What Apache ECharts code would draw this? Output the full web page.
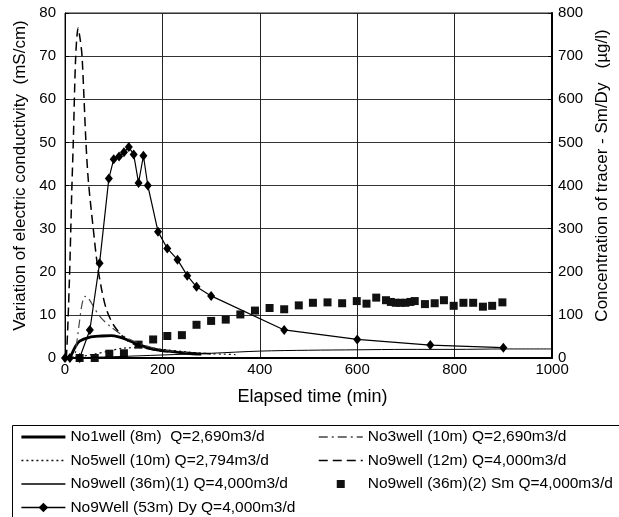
<!DOCTYPE html>
<html>
<head>
<meta charset="utf-8">
<title>Tracer test</title>
<script src="https://cdn.jsdelivr.net/npm/echarts@6/dist/echarts.min.js"></script>
<style>
    html, body { margin: 0; padding: 0; background: #fff; }
    #tracerChart { width: 619px; height: 517px; }
</style>
</head>
<body>
<div id="tracerChart"></div>
<script>
// 电导率 (mS/cm)，[时间(min), 值]
let no1well = [[0, 0], [10, 0.2], [20, 2.4], [30, 3.9], [50, 4.8], [75, 5.1], [95, 5.2], [110, 4.9], [126, 4.3], [151, 3.1], [180, 2.1], [200, 1.7], [220, 1.5], [250, 1.1], [280, 0.9]];
let no3well = [[0, 0], [18, 0.3], [24, 3.5], [29, 7.8], [35, 12.5], [41, 14.3], [47, 14], [54, 12.8], [71, 9.7], [92, 7.4], [126, 4.7], [160, 3.1], [194, 2], [240, 1.4], [300, 1.0]];
let no5well = [[0, 0], [30, 0.3], [60, 0.9], [90, 1.6], [120, 2.3], [160, 2.4], [200, 2.0], [250, 1.4], [300, 1.0], [350, 0.8]];
let no9well12 = [[0, 0], [3, 0.5], [9, 18], [14, 39], [17, 50], [22, 70], [27, 76.5], [31, 74], [35, 70], [43, 50], [48, 41], [58, 30], [66, 22], [75, 16], [85, 11.3], [100, 7.6], [125, 4.3], [150, 2.8], [190, 1.7], [250, 1.2], [300, 1.0]];
let no9well36 = [[0, 0], [100, 0.3], [200, 0.7], [300, 1.1], [400, 1.6], [500, 1.8], [600, 1.9], [700, 2.0], [800, 2.0], [900, 2.1], [1000, 2.1]];

// 示踪剂浓度 (µg/l)
let smConc = [[30, 0], [61, 0], [91, 10], [121, 11], [151, 31], [181, 43], [210, 51], [240, 53], [270, 77], [300, 86], [330, 89], [360, 101], [390, 110], [420, 116], [450, 113], [480, 122], [509, 128], [539, 129], [569, 127], [599, 132], [619, 126], [639, 140], [659, 134], [669, 130], [679, 128], [689, 128], [699, 128], [709, 130], [718, 132], [739, 125], [759, 127], [778, 134], [798, 121], [818, 128], [838, 128], [858, 119], [877, 121], [898, 129]];
let dyConc = [[0, 0], [10, 0], [30, 0], [51, 65], [71, 220], [90, 416], [100, 461], [111, 467], [121, 477], [131, 489], [141, 472], [151, 406], [161, 469], [170, 400], [191, 293], [210, 254], [231, 228], [251, 191], [270, 165], [300, 144], [450, 65], [600, 43], [750, 30], [900, 24]];

let names = [
    'No1well (8m)  Q=2,690m3/d',
    'No3well (10m) Q=2,690m3/d',
    'No5well (10m) Q=2,794m3/d',
    'No9well (12m) Q=4,000m3/d',
    'No9well (36m)(1) Q=4,000m3/d',
    'No9well (36m)(2) Sm Q=4,000m3/d',
    'No9Well (53m) Dy Q=4,000m3/d'
];

let fontFamily = '"Liberation Sans", Arial, sans-serif';

function lineSeries(name, data, width, type, color) {
    return {
        name: name,
        type: 'line',
        data: data,
        symbol: 'none',
        smooth: 0.3,
        z: 3,
        itemStyle: { color: color },
        lineStyle: { color: color, width: width, type: type }
    };
}

// 图例里纯线条不画圆点
function lineOnly(name, width) {
    return {
        name: name,
        itemStyle: { color: 'rgba(0,0,0,0)', borderWidth: 0 },
        lineStyle: { width: width || 1.3 }
    };
}

let legendText = { fontSize: 15.5, color: '#000', fontFamily: fontFamily, lineHeight: 16 };

let option = {
    animation: false,
    textStyle: { fontFamily: fontFamily, color: '#000' },
    grid: {
        left: 65, right: 63, top: 13, bottom: 159,
        show: true, borderColor: '#222', borderWidth: 1
    },
    xAxis: {
        type: 'value', min: 0, max: 1000, interval: 200,
        name: 'Elapsed time (min)', nameLocation: 'middle', nameGap: 30,
        nameTextStyle: { fontSize: 18, color: '#000', padding: [0, 0, 0, 8] },
        axisLine: { lineStyle: { color: '#000', width: 2 } },
        axisTick: { show: false },
        axisLabel: { fontSize: 15, color: '#000', margin: 4, formatter: function (v) { return String(v); } },
        splitLine: { lineStyle: { color: '#222', width: 1 } }
    },
    yAxis: [
        {
            type: 'value', min: 0, max: 80, interval: 10,
            name: 'Variation of electric conductivity  (mS/cm)', nameLocation: 'middle', nameGap: 36,
            nameTextStyle: { fontSize: 17, color: '#000', padding: [0, 0, 0, 20] },
            axisLine: { show: true, lineStyle: { color: '#000', width: 1 } },
            axisTick: { show: true, inside: true, length: 4, lineStyle: { color: '#000' } },
            axisLabel: { fontSize: 15, color: '#000', margin: 9 },
            splitLine: { lineStyle: { color: '#333', width: 1 } }
        },
        {
            type: 'value', min: 0, max: 800, interval: 100, position: 'right',
            name: 'Concentration of tracer - Sm/Dy   (µg/l)', nameLocation: 'middle', nameGap: 32,
            nameTextStyle: { fontSize: 17, color: '#000', padding: [0, 0, 0, 20] },
            axisLine: { show: true, lineStyle: { color: '#000', width: 2 } },
            axisTick: { show: true, inside: true, length: 4, lineStyle: { color: '#000' } },
            axisLabel: { fontSize: 15, color: '#000', margin: 6 },
            splitLine: { show: false }
        }
    ],
    legend: [
        {
            data: [lineOnly(names[0], 2.8), lineOnly(names[2]), lineOnly(names[4]), { name: names[6], lineStyle: { width: 1.3 } }],
            orient: 'vertical', left: 20, top: 429, padding: 0,
            itemWidth: 44, itemHeight: 12, itemGap: 7.5,
            textStyle: legendText
        },
        {
            data: [lineOnly(names[1]), lineOnly(names[3], 1.5), { name: names[5], icon: 'path://M0,0L10,0L10,10L0,10Z' }],
            orient: 'vertical', left: 318, top: 429, padding: 0,
            itemWidth: 44, itemHeight: 8, itemGap: 7.5,
            textStyle: legendText
        }
    ],
    graphic: [
        {
            type: 'rect', left: 10, top: 423, z: -1,
            shape: { width: 607, height: 92 },
            style: { fill: 'none', stroke: '#000', lineWidth: 1 }
        }
    ],
    series: [
        {
            name: names[5],
            type: 'scatter',
            yAxisIndex: 1,
            data: smConc,
            symbol: 'rect',
            symbolSize: 8,
            z: 2,
            itemStyle: { color: '#111', opacity: 1 }
        },
        lineSeries(names[0], no1well, 2.8, 'solid', '#000'),
        lineSeries(names[1], no3well, 1.2, [9, 4, 2, 4], '#444'),
        lineSeries(names[2], no5well, 1.2, [2, 3], '#111'),
        lineSeries(names[3], no9well12, 1.5, [9, 5], '#000'),
        lineSeries(names[4], no9well36, 1, 'solid', '#000'),
        {
            name: names[6],
            type: 'line',
            yAxisIndex: 1,
            data: dyConc,
            symbol: 'diamond',
            symbolSize: [8, 10],
            z: 4,
            lineStyle: { color: '#000', width: 1.2 },
            itemStyle: { color: '#000' }
        }
    ]
};

let tracerChart = echarts.init(document.getElementById('tracerChart'));
tracerChart.setOption(option);
</script>
</body>
</html>
